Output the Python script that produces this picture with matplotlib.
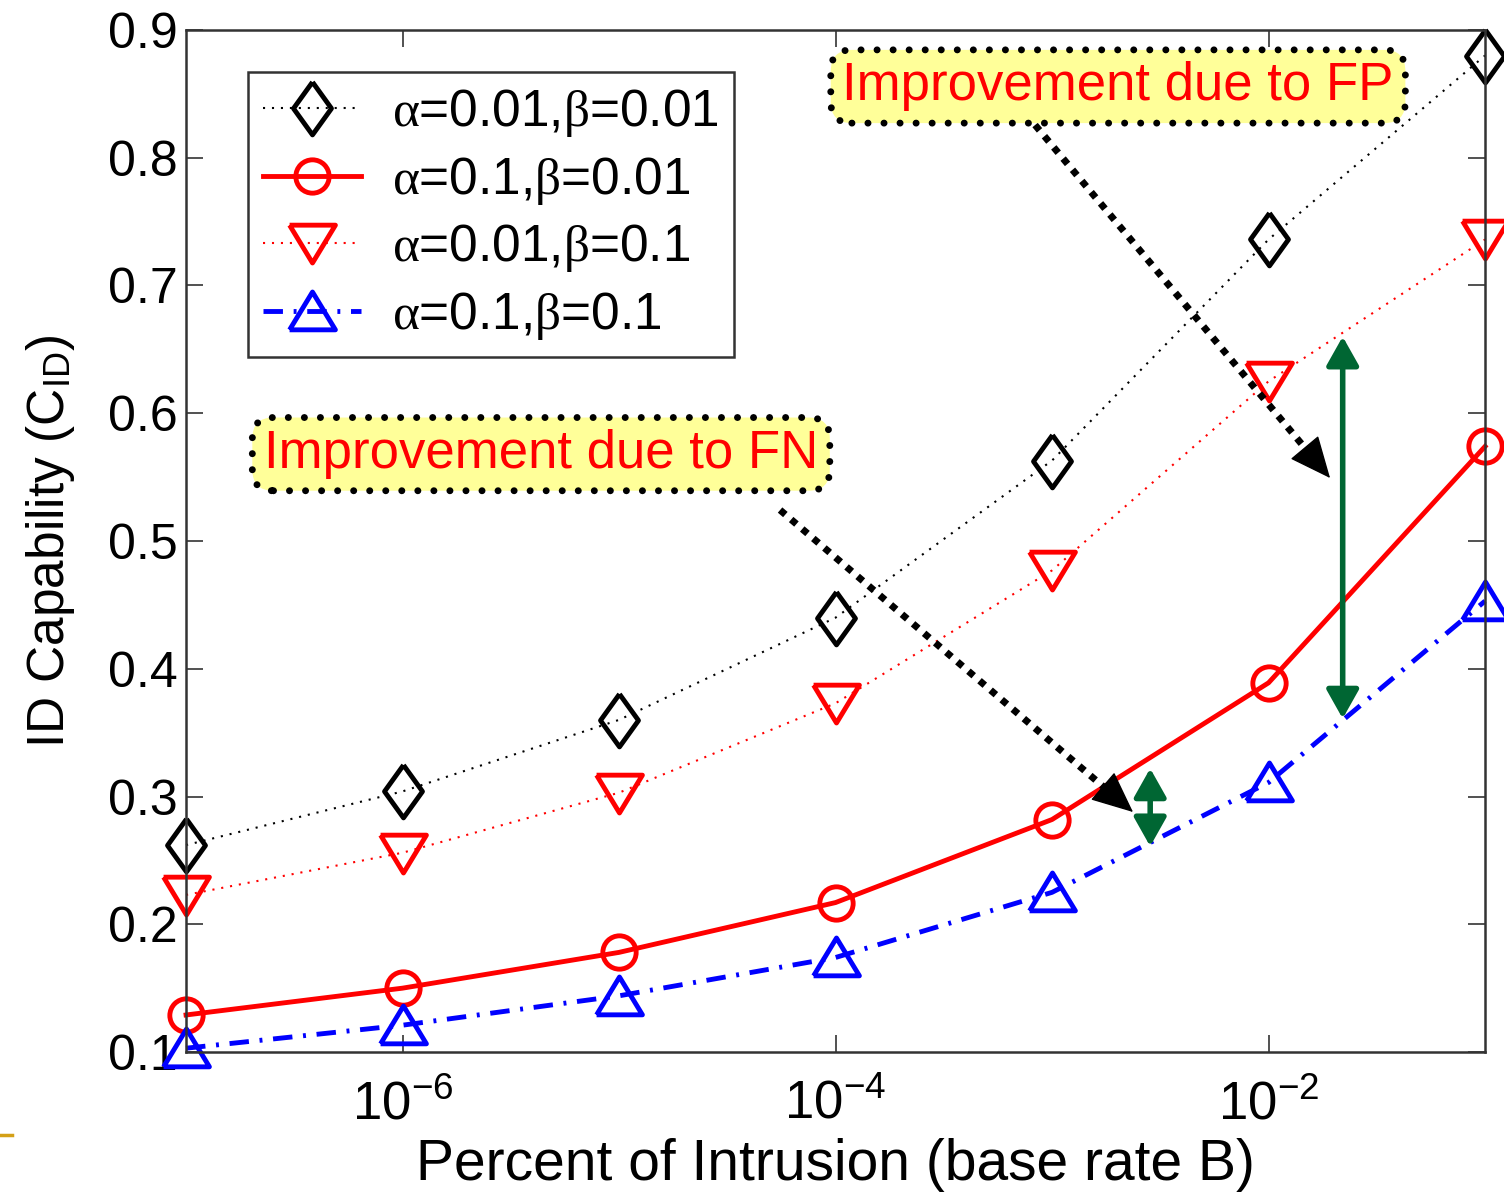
import numpy as np
import matplotlib
matplotlib.use('Agg')
import matplotlib.pyplot as plt
from matplotlib.lines import Line2D

plt.rcParams['font.family'] = ['Liberation Sans', 'DejaVu Sans']
plt.rcParams['mathtext.fontset'] = 'custom'
plt.rcParams['mathtext.rm'] = 'Liberation Sans'
plt.rcParams['mathtext.it'] = 'Liberation Serif'

# base rate B
base_rate = [1e-7, 1e-6, 1e-5, 1e-4, 1e-3, 1e-2, 1e-1]

# C_ID values
cid_a001_b001 = [0.262, 0.304, 0.360, 0.440, 0.563, 0.736, 0.880]
cid_a01_b001  = [0.129, 0.150, 0.178, 0.217, 0.282, 0.389, 0.574]
cid_a001_b01  = [0.223, 0.256, 0.303, 0.373, 0.477, 0.625, 0.736]
cid_a01_b01   = [0.103, 0.121, 0.144, 0.174, 0.225, 0.311, 0.453]

labels = [r'$\alpha$=0.01,$\beta$=0.01', r'$\alpha$=0.1,$\beta$=0.01',
          r'$\alpha$=0.01,$\beta$=0.1', r'$\alpha$=0.1,$\beta$=0.1']

xtick_vals   = [1e-6, 1e-4, 1e-2]
xtick_labels = [r'$\mathregular{10^{-6}}$', r'$\mathregular{10^{-4}}$', r'$\mathregular{10^{-2}}$']

# green double arrows (x, y_low, y_high)
fp_gap = (0.022, 0.361, 0.660)
fn_gap = (0.00284, 0.261, 0.322)

fig = plt.figure(figsize=(15.04, 11.94), dpi=100)
ax = fig.add_axes([0.1237, 0.1189, 0.8637, 0.856])

# matlab-like marker shapes
diamond = [(0, 1), (0.72, 0), (0, -1), (-0.72, 0), (0, 1)]
tri_down = [(-1, 0.8), (1, 0.8), (0, -0.85), (-1, 0.8)]
tri_up = [(-1, -0.8), (1, -0.8), (0, 0.85), (-1, -0.8)]

ms_edge = 3.5
ax.plot(base_rate, cid_a001_b001, color='k', ls=(0, (1, 3.3)), lw=1.5, clip_on=False,
        marker=diamond, ms=38, mfc='none', mec='k', mew=ms_edge, label=labels[0])
ax.plot(base_rate, cid_a01_b001, color='red', ls='-', lw=3.5, clip_on=False,
        marker='o', ms=24, mfc='none', mec='red', mew=ms_edge, label=labels[1])
ax.plot(base_rate, cid_a001_b01, color='red', ls=(0, (1, 3.3)), lw=1.5, clip_on=False,
        marker=tri_down, ms=33, mfc='none', mec='red', mew=ms_edge, label=labels[2])
ax.plot(base_rate, cid_a01_b01, color='blue', ls=(0, (4.0, 2.2, 0.6, 2.2)), lw=3.5,
        clip_on=False, marker=tri_up, ms=33, mfc='none', mec='blue', mew=ms_edge,
        label=labels[3])

ax.set_xscale('log')
ax.set_xlim(1e-7, 1e-1)
ax.set_ylim(0.1, 0.9)
ax.set_xticks(xtick_vals)
ax.set_xticklabels(xtick_labels)
ax.xaxis.set_minor_locator(matplotlib.ticker.NullLocator())
ax.set_yticks(np.arange(0.1, 0.91, 0.1))
ax.set_yticklabels(['0.1', '0.2', '0.3', '0.4', '0.5', '0.6', '0.7', '0.8', '0.9'])
ax.tick_params(direction='in', length=12, width=1.2, labelsize=36, top=True, right=True,
               color='#333333')
ax.tick_params(axis='x', pad=20, labelsize=38)
ax.tick_params(axis='y', pad=6)
for s in ax.spines.values():
    s.set_linewidth(1.8)
    s.set_color('#333333')

ax.set_xlabel('Percent of Intrusion (base rate B)', fontsize=41, labelpad=6)
ax.set_ylabel(r'ID Capability (C$_{\mathregular{ID}}$)', fontsize=37, labelpad=22)

leg = ax.legend(loc='upper left', bbox_to_anchor=(0.0477, 0.9589), fontsize=37,
                frameon=True, fancybox=False, edgecolor='k', handlelength=1.9,
                handletextpad=0.6, labelspacing=0.3, borderpad=0.3, borderaxespad=0,
                markerscale=1.0)
leg.get_frame().set_linewidth(1.8)

# yellow note boxes
box = dict(boxstyle='round,pad=0.22,rounding_size=0.4', fc='#ffff99', ec='k', lw=5,
           ls=(0, (0.01, 2.3)), capstyle='round')
ax.text(0.7175, 0.9447, 'Improvement due to FP', transform=ax.transAxes, fontsize=38,
        color='red', ha='center', va='center', bbox=box, zorder=6)
ax.text(0.2733, 0.585, 'Improvement due to FN', transform=ax.transAxes, fontsize=38,
        color='red', ha='center', va='center', bbox=box, zorder=6)

# dotted black pointers
pointers = [((0.6536, 0.9070), (0.8807, 0.5616)), ((0.4573, 0.5303), (0.7290, 0.2348))]
for (x0, y0), (x1, y1) in pointers:
    dx, dy = x1 - x0, y1 - y0
    xm, ym = x1 - 0.06 * dx, y1 - 0.06 * dy
    ax.plot([x0, xm], [y0, ym], transform=ax.transAxes, color='k', lw=5,
            ls=(0, (1, 1.1)), solid_capstyle='butt', dash_capstyle='butt', zorder=5)
    ax.annotate('', xy=(x1, y1), xytext=(xm, ym), xycoords='axes fraction',
                textcoords='axes fraction', zorder=5,
                arrowprops=dict(arrowstyle='-|>,head_length=0.9,head_width=0.4',
                                color='k', lw=1, mutation_scale=30,
                                shrinkA=0, shrinkB=0))

# green double arrows
for gx, glo, ghi in [fp_gap, fn_gap]:
    ax.annotate('', xy=(gx, ghi), xytext=(gx, glo), zorder=5,
                arrowprops=dict(arrowstyle='<|-|>,head_length=0.8,head_width=0.45',
                                color='#006633', lw=4, mutation_scale=22,
                                shrinkA=0, shrinkB=0))

fig.add_artist(Line2D([0, 0.008], [0.0494, 0.0494], color='#d4a017', lw=2.5))

plt.savefig('out.png', dpi=100)
